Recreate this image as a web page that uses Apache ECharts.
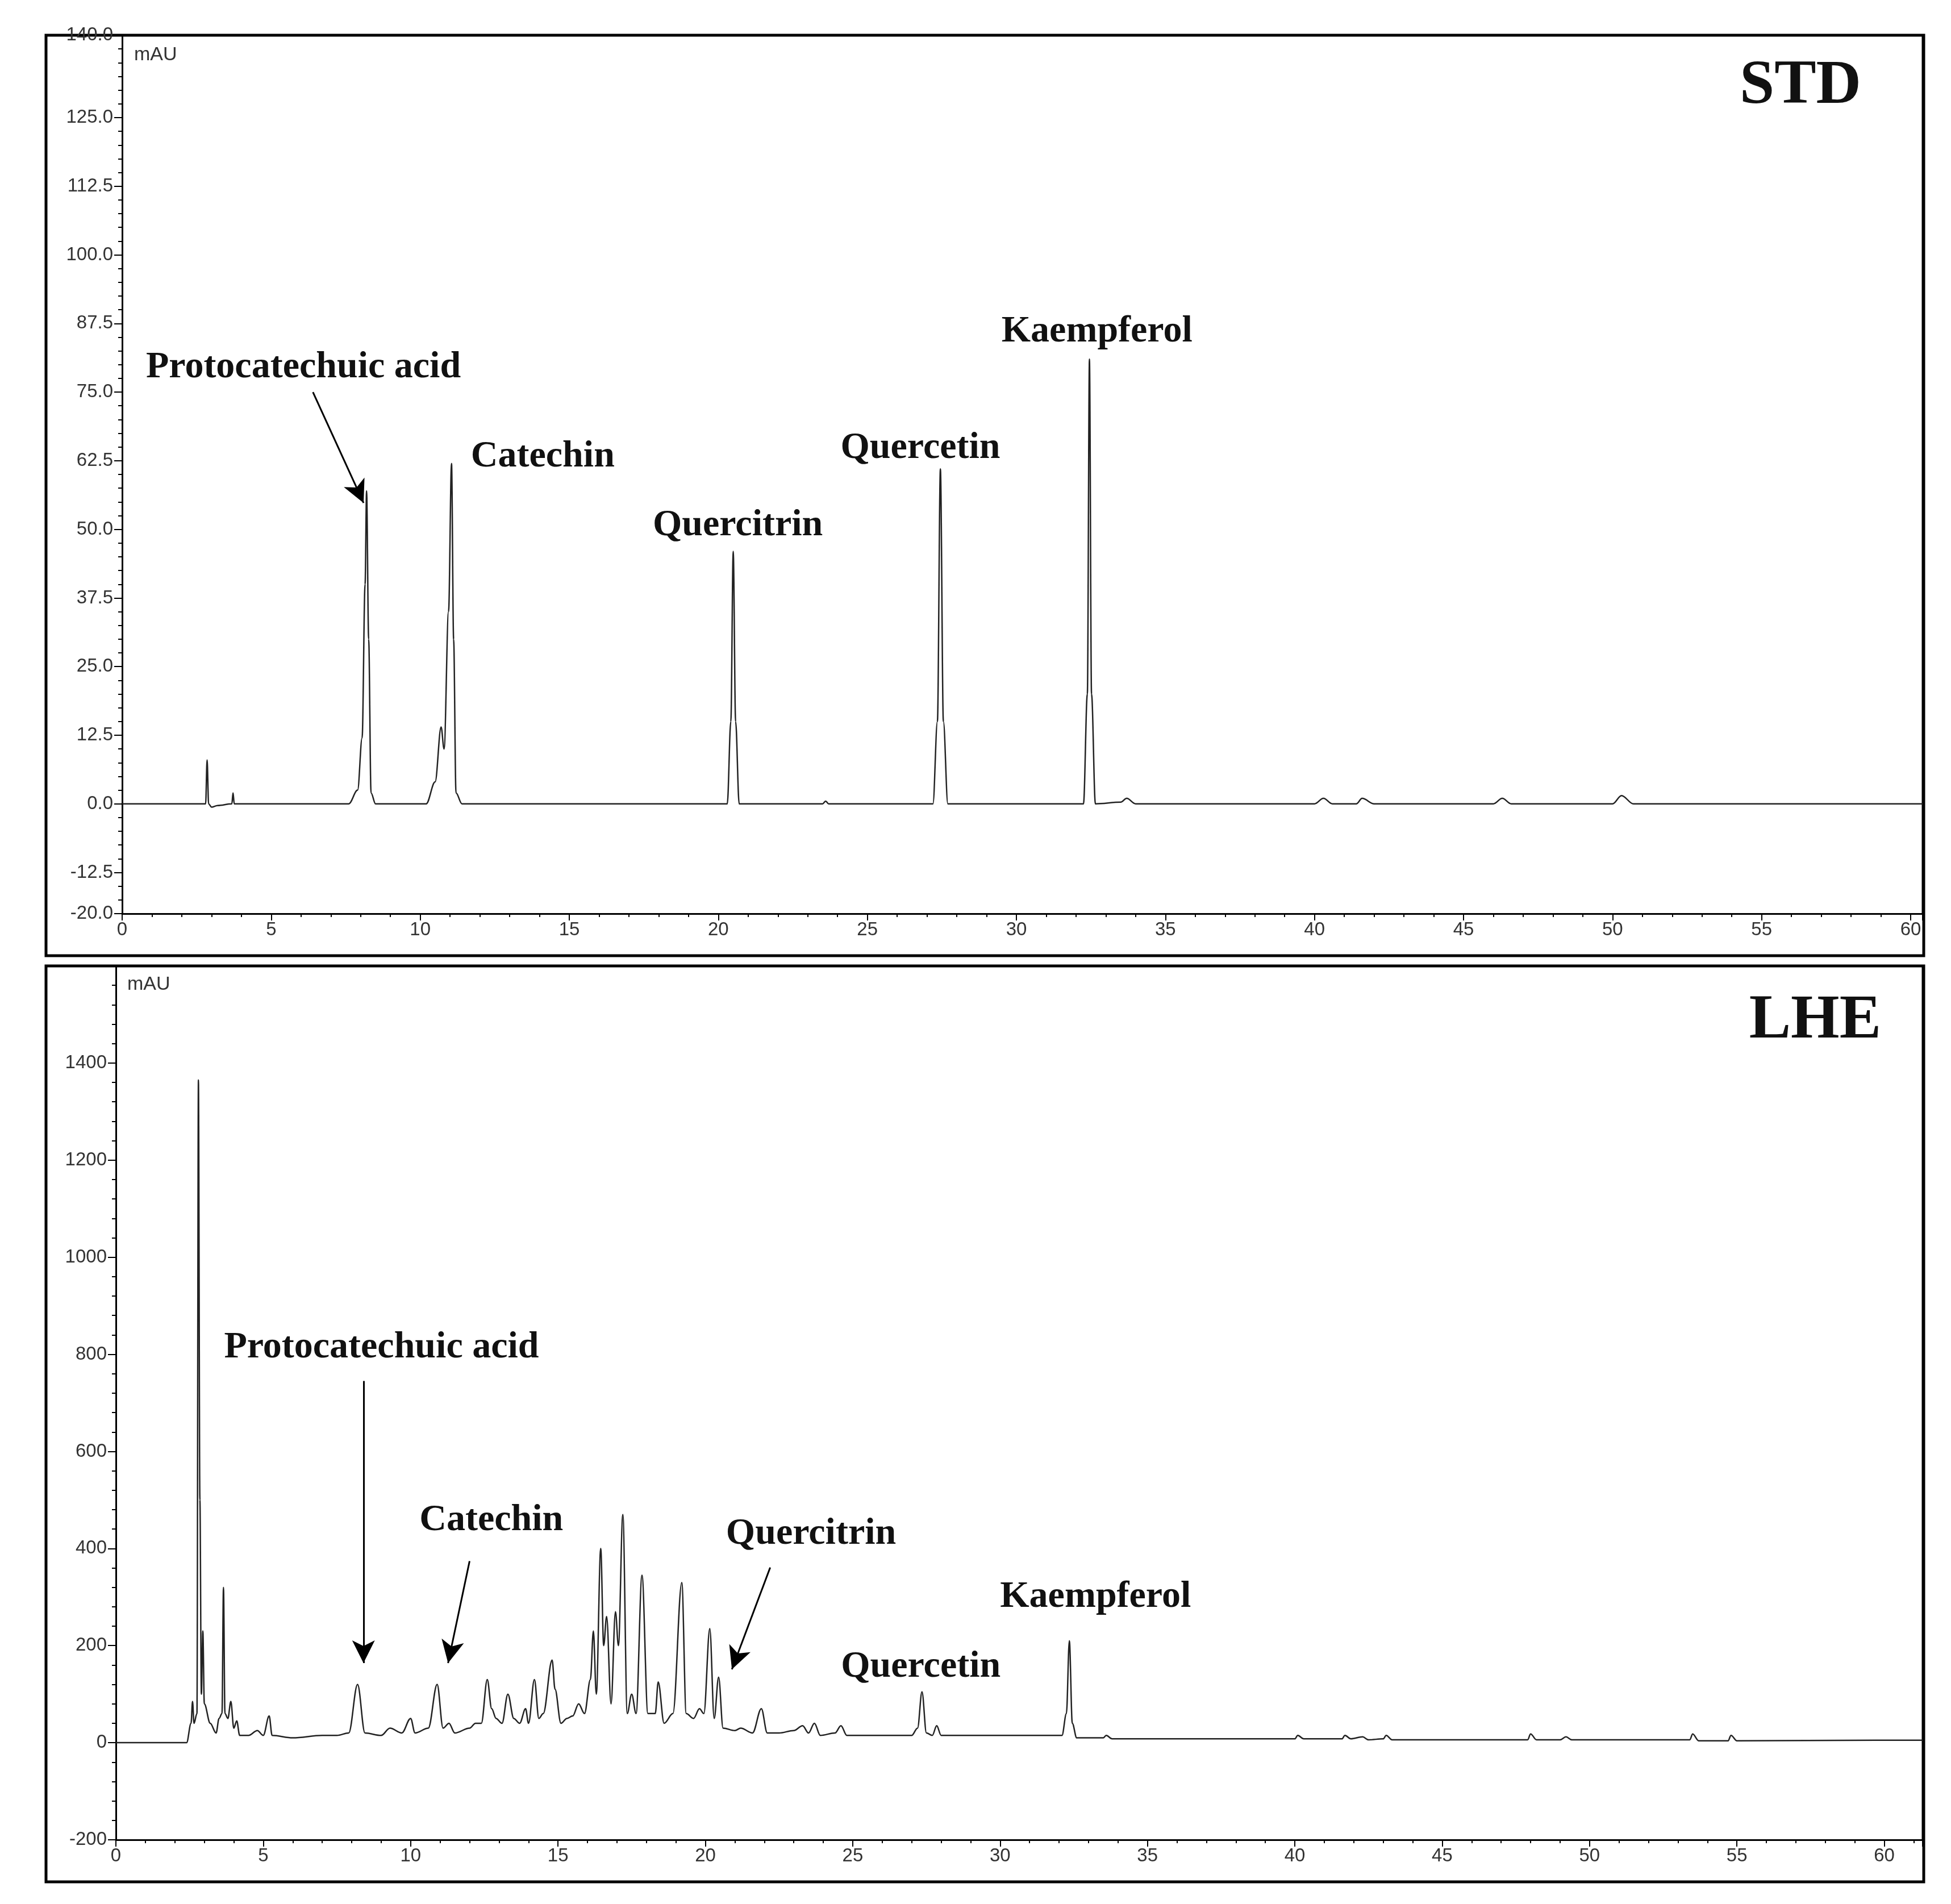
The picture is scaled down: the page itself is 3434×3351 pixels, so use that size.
<!DOCTYPE html>
<html>
<head>
<meta charset="utf-8">
<script src="https://cdn.jsdelivr.net/npm/echarts@6/dist/echarts.min.js"></script>
<style>html,body{margin:0;padding:0;background:#fff}#c{width:3434px;height:3351px}</style>
</head>
<body>
<div id="c"></div>
<script>
// retention time (min), absorbance (mAU)
var stdTrace = [[0,0],[2.8,0],[2.85,8],[2.9,0],[3.0,-0.6],[3.2,-0.3],[3.68,0],[3.72,2],[3.76,0],[7.6,0],[7.9,2.5],[8.05,12],[8.15,40],[8.2,57],[8.27,30],[8.35,2],[8.5,0],[10.2,0],[10.5,4],[10.7,14],[10.8,10],[10.95,35],[11.05,62],[11.12,30],[11.2,2],[11.4,0],[20.3,0],[20.42,15],[20.5,46],[20.58,15],[20.7,0],[23.5,0],[23.6,0.5],[23.7,0],[27.2,0],[27.35,15],[27.45,61],[27.55,15],[27.7,0],[32.25,0],[32.38,20],[32.45,81],[32.52,20],[32.65,0],[33.5,0.3],[33.7,1],[34,0],[40,0],[40.3,1],[40.6,0],[41.4,0],[41.6,1],[42,0],[46.0,0],[46.3,1],[46.6,0],[50.0,0],[50.3,1.5],[50.7,0],[60.4,0]];
var lheTrace = [[0,0],[2.4,0],[2.55,40],[2.6,85],[2.65,40],[2.75,60],[2.8,1365],[2.85,500],[2.9,100],[2.95,230],[3.0,80],[3.2,40],[3.4,20],[3.5,50],[3.6,60],[3.65,320],[3.7,60],[3.8,50],[3.9,85],[4.0,30],[4.1,45],[4.2,15],[4.5,15],[4.8,25],[5.0,15],[5.2,55],[5.3,15],[6,10],[7,15],[7.5,15],[7.9,20],[8.2,120],[8.45,20],[9,15],[9.3,30],[9.7,20],[10,50],[10.15,20],[10.6,30],[10.9,120],[11.1,30],[11.3,40],[11.5,20],[12,30],[12.2,40],[12.4,40],[12.6,130],[12.75,70],[12.9,50],[13.1,40],[13.3,100],[13.5,50],[13.7,40],[13.9,70],[14.0,40],[14.2,130],[14.35,50],[14.5,60],[14.8,170],[14.9,110],[15.1,40],[15.3,50],[15.5,55],[15.7,80],[15.9,60],[16.1,130],[16.2,230],[16.3,100],[16.45,400],[16.55,200],[16.65,260],[16.8,80],[16.95,270],[17.05,200],[17.2,470],[17.35,60],[17.5,100],[17.65,60],[17.85,345],[18.05,60],[18.3,60],[18.4,125],[18.6,40],[18.9,60],[19.2,330],[19.35,60],[19.6,50],[19.8,70],[19.95,60],[20.15,235],[20.3,50],[20.45,135],[20.6,30],[21.0,25],[21.2,30],[21.6,20],[21.9,70],[22.1,20],[22.5,20],[23,25],[23.3,35],[23.5,20],[23.7,40],[23.9,15],[24.4,20],[24.6,35],[24.8,15],[26,15],[27,15],[27.2,30],[27.35,105],[27.5,20],[27.7,15],[27.85,35],[28.0,15],[29,15],[30,15],[32.1,15],[32.25,60],[32.35,210],[32.45,40],[32.6,10],[33.5,10],[33.6,15],[33.8,8],[36,8],[40,8],[40.1,15],[40.3,8],[41.6,8],[41.7,15],[41.9,8],[42.3,12],[42.5,6],[43,8],[43.1,15],[43.3,6],[47,6],[47.9,6],[48,18],[48.2,6],[49,6],[49.2,12],[49.4,6],[51.5,6],[53.4,6],[53.5,18],[53.7,4],[54.7,4],[54.8,15],[55,4],[59.7,5],[61.3,5]];

var stdYLabels = [-20,-12.5,0,12.5,25,37.5,50,62.5,75,87.5,100,112.5,125,140];

// compound labels: [text, x, y] and arrows: [x1,y1,x2,y2]
var stdNames = [['Protocatechuic acid',0.8,79.5],['Catechin',11.7,63.2],['Quercitrin',17.8,50.7],['Quercetin',24.1,64.8],['Kaempferol',29.5,86]];
var stdArrows = [[6.4,75,8.1,54.8]];
var lheNames = [['Protocatechuic acid',3.67,814],['Catechin',10.3,458],['Quercitrin',20.7,430],['Quercetin',24.6,156],['Kaempferol',30.0,300]];
var lheArrows = [[8.4,745,8.4,164],[12.0,374,11.27,164],[22.2,361,20.9,151]];

var stdMinor = [];
for (var v = -20; v <= 140; v += 2.5) stdMinor.push(v);

var myChart = echarts.init(document.getElementById('c'));
var lab = {color: '#333', fontSize: 33, fontFamily: 'Liberation Sans'};
var nameFont = {fontFamily: 'Liberation Serif', fontWeight: 'bold', fontSize: 66, color: '#111'};

function mkPoints(names) {
    return names.map(function (n) {
        return {coord: [n[1], n[2]], label: {formatter: n[0]}};
    });
}
function mkArrows(arr) {
    return arr.map(function (a) {
        return [{coord: [a[0], a[1]]}, {coord: [a[2], a[3]]}];
    });
}
function xAx(idx, max) {
    return {
        gridIndex: idx, type: 'value', min: 0, max: max, interval: 5,
        axisLine: {onZero: false, lineStyle: {color: '#000', width: 3}},
        axisTick: {length: 12, lineStyle: {color: '#000', width: 2}},
        minorTick: {show: true, splitNumber: 5, length: 6, lineStyle: {color: '#000', width: 2}},
        axisLabel: Object.assign({margin: 12, showMaxLabel: false}, lab),
        splitLine: {show: false}
    };
}
function traceSeries(idx, data, names, arrows) {
    return {
        type: 'line', xAxisIndex: idx, yAxisIndex: idx === 0 ? 0 : 2, data: data,
        showSymbol: false, symbol: 'none', silent: true,
        smooth: 0.35, smoothMonotone: 'x',
        lineStyle: {color: '#222', width: 2.5},
        markPoint: {
            symbol: 'circle', symbolSize: 0, silent: true,
            label: Object.assign({show: true, position: 'right', distance: 0, align: 'left', verticalAlign: 'middle'}, nameFont),
            data: mkPoints(names)
        },
        markLine: {
            silent: true, symbol: ['none', 'arrow'], symbolSize: [30, 40],
            lineStyle: {color: '#000', width: 3, type: 'solid'},
            label: {show: false},
            data: mkArrows(arrows)
        }
    };
}

option = {
    animation: false,
    backgroundColor: '#fff',
    grid: [
        {left: 215, width: 3169, top: 62, height: 1546},
        {left: 204, width: 3180, top: 1700, height: 1538}
    ],
    xAxis: [xAx(0, 60.4), xAx(1, 61.3)],
    yAxis: [
        {
            gridIndex: 0, type: 'value', min: -20, max: 140,
            axisLine: {show: true, lineStyle: {color: '#000', width: 3}},
            axisTick: {show: true, customValues: stdYLabels, length: 14, lineStyle: {color: '#000', width: 2}},
            axisLabel: Object.assign({customValues: stdYLabels, margin: 16, formatter: function (v) { return v.toFixed(1); }}, lab),
            splitLine: {show: false}
        },
        {
            gridIndex: 0, type: 'value', min: -20, max: 140, position: 'left',
            axisLine: {show: false},
            axisTick: {show: true, customValues: stdMinor, length: 7, lineStyle: {color: '#000', width: 2}},
            axisLabel: {show: false}, splitLine: {show: false}
        },
        {
            gridIndex: 1, type: 'value', min: -200, max: 1600, interval: 200,
            axisLine: {show: true, lineStyle: {color: '#000', width: 3}},
            axisTick: {length: 14, lineStyle: {color: '#000', width: 2}},
            minorTick: {show: true, splitNumber: 5, length: 7, lineStyle: {color: '#000', width: 2}},
            axisLabel: Object.assign({margin: 16, showMaxLabel: false, formatter: function (v) { return String(v); }}, lab),
            splitLine: {show: false}
        }
    ],
    graphic: [
        {type: 'rect', shape: {x: 81, y: 62, width: 3305, height: 1620}, style: {fill: 'none', stroke: '#000', lineWidth: 5}},
        {type: 'rect', shape: {x: 81, y: 1700, width: 3305, height: 1612}, style: {fill: 'none', stroke: '#000', lineWidth: 5}},
        {type: 'line', shape: {x1: 215, y1: 62, x2: 3384, y2: 62}, style: {stroke: '#000', lineWidth: 3}},
        {type: 'line', shape: {x1: 3384, y1: 62, x2: 3384, y2: 1608}, style: {stroke: '#000', lineWidth: 3}},
        {type: 'line', shape: {x1: 3384, y1: 1700, x2: 3384, y2: 3238}, style: {stroke: '#000', lineWidth: 3}},
        {type: 'text', left: 236, top: 80, style: {text: 'mAU', font: '34px "Liberation Sans"', fill: '#333'}},
        {type: 'text', left: 224, top: 1716, style: {text: 'mAU', font: '34px "Liberation Sans"', fill: '#333'}},
        {type: 'text', x: 3276, y: 153, style: {text: 'STD', font: 'bold 110px "Liberation Serif"', fill: '#111', textAlign: 'right', textVerticalAlign: 'middle'}},
        {type: 'text', x: 3311, y: 1798, style: {text: 'LHE', font: 'bold 110px "Liberation Serif"', fill: '#111', textAlign: 'right', textVerticalAlign: 'middle'}}
    ],
    series: [
        traceSeries(0, stdTrace, stdNames, stdArrows),
        traceSeries(1, lheTrace, lheNames, lheArrows)
    ]
};
myChart.setOption(option);
</script>
</body>
</html>
